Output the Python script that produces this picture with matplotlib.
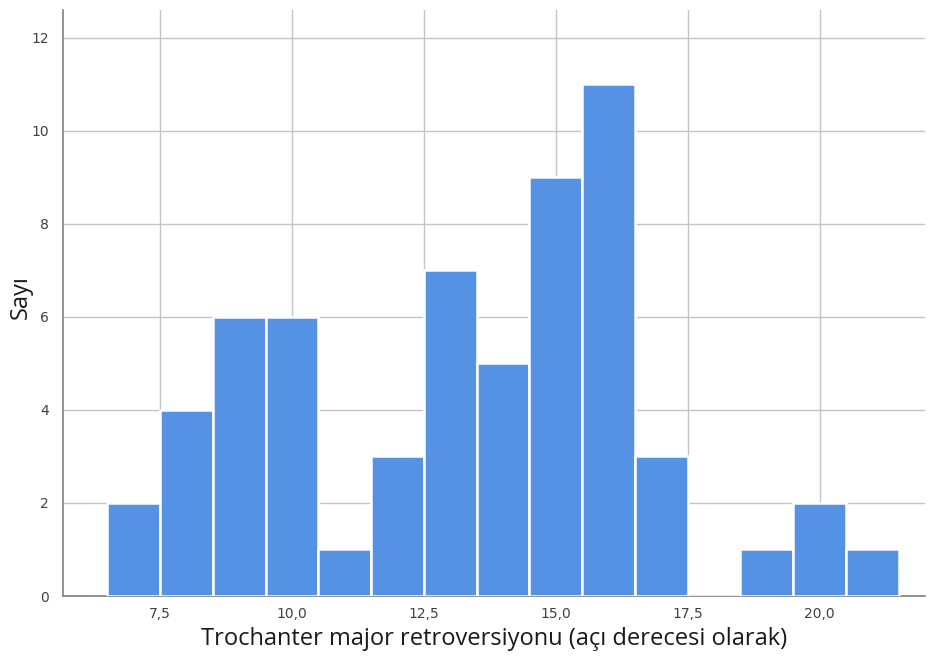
import matplotlib
matplotlib.use("Agg")
import matplotlib.pyplot as plt

bin_edges_left = [6.5, 7.5, 8.5, 9.5, 10.5, 11.5, 12.5, 13.5, 14.5, 15.5, 16.5, 17.5, 18.5, 19.5, 20.5]
counts = [2, 4, 6, 6, 1, 3, 7, 5, 9, 11, 3, 0, 1, 2, 1]
xticks = [7.5, 10.0, 12.5, 15.0, 17.5, 20.0]
xtick_labels = ["7,5", "10,0", "12,5", "15,0", "17,5", "20,0"]
yticks = [0, 2, 4, 6, 8, 10, 12]
xlabel = "Trochanter major retroversiyonu (açı derecesi olarak)"
ylabel = "Sayı"

fig = plt.figure(figsize=(9.3, 6.64), dpi=100)
ax = fig.add_axes([0.0677, 0.1024, 0.927, 0.8826])

ax.set_axisbelow(True)
ax.grid(True, color="#c4c4c4", linewidth=1.0)
ax.bar(bin_edges_left, counts, width=1.0, align="edge", color="#5592e4",
       edgecolor="white", linewidth=1.8, zorder=3)

ax.set_xlim(5.66, 22.0)
ax.set_ylim(0, 12.6)
ax.set_xticks(xticks)
ax.set_xticklabels(xtick_labels)
ax.set_yticks(yticks)
ax.tick_params(length=0, labelsize=10, colors="#404040")
ax.tick_params(axis="x", pad=8)
ax.tick_params(axis="y", pad=10)
for s in ["top", "right"]:
    ax.spines[s].set_visible(False)
for s in ["left", "bottom"]:
    ax.spines[s].set_color("#8a8a8a")
    ax.spines[s].set_linewidth(1.3)

ax.set_xlabel(xlabel, family="Open Sans", fontsize=17, color="#1a1a1a", labelpad=4)
ax.set_ylabel(ylabel, family="Open Sans", fontsize=17, color="#1a1a1a",
              va="center", ha="center")
ax.yaxis.set_label_coords(-0.049, 0.51)

fig.savefig("out.png", dpi=100, facecolor="white")
